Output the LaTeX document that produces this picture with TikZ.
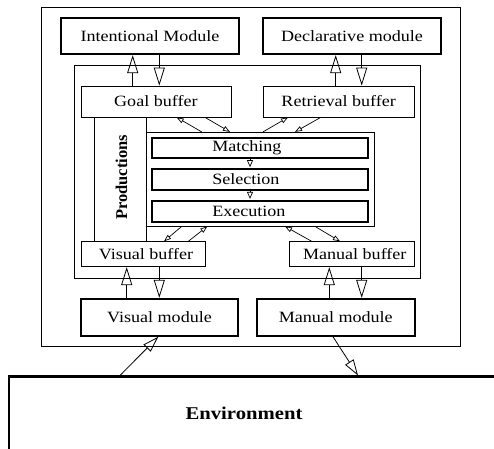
\documentclass[tikz,border=0pt]{standalone}
\usepackage{fontspec}
\setmainfont[FakeStretch=1.15]{Liberation Serif}
\newfontfamily\prodfont{Liberation Serif}
\usetikzlibrary{arrows.meta}
\begin{document}
\begin{tikzpicture}[x=1pt,y=-1pt,
  thin line/.style={line width=0.8pt},
  modbox/.style={draw, line width=2.2pt, inner sep=0pt, font=\fontsize{15.7}{17}\selectfont},
  bufbox/.style={draw, line width=0.8pt, inner sep=0pt, font=\fontsize{15.7}{17}\selectfont},
  procbox/.style={draw, line width=2pt, inner ysep=0pt, font=\fontsize{15.7}{17}\selectfont,
     minimum width=216pt, text width=96pt, inner xsep=60pt, align=left},
  bigarr/.style={line width=0.8pt, -{Triangle[open, length=18pt, width=11pt, line width=0.8pt]}},
  smallarr/.style={line width=0.7pt, -{Triangle[open, length=7pt, width=5pt, line width=0.7pt]}},
  tinyarr/.style={line width=0.7pt, shorten >=0.8pt, -{Triangle[open, length=7pt, width=6pt, line width=0.7pt]}},
  envarr/.style={line width=0.8pt, -{Triangle[open, length=16pt, width=10pt, line width=0.8pt]}}
]
\useasboundingbox (0,0) rectangle (494,448);
\clip (0,0) rectangle (494,448);

% frames
\draw[thin line] (41.5,7) rectangle (460,346);
\draw[thin line] (74.5,65) rectangle (420,278);

% modules
\node[modbox, minimum width=178pt, minimum height=36pt] (intent) at (150,36) {Intentional Module};
\node[modbox, minimum width=178pt, minimum height=36pt] (decl) at (352,36) {Declarative module};
\node[modbox, minimum width=157.6pt, minimum height=36.7pt] (vmod) at (159.5,317.3) {Visual module};
\node[modbox, minimum width=158.3pt, minimum height=36.7pt] (mmod) at (335.8,317.3) {Manual module};

% buffers
\node[bufbox, minimum width=150pt, minimum height=31pt] (goal) at (155.9,101.5) {Goal buffer};
\node[bufbox, minimum width=150.5pt, minimum height=31pt] (retr) at (338.7,101.5) {Retrieval buffer};
\node[bufbox, minimum width=124pt, minimum height=25pt] (vbuf) at (143,254.2) {\hspace*{6pt}Visual buffer};
\node[bufbox, minimum width=124.5pt, minimum height=25pt] (mbuf) at (351.75,254.2) {\hspace*{6pt}Manual buffer};

% productions column
\draw[thin line] ([xshift=-61.9pt]goal.south) -- ([xshift=-61.9pt]goal.south |- vbuf.north);
\draw[thin line] ([xshift=-9.6pt]goal.south) -- ([xshift=-9.6pt]goal.south |- vbuf.north);
\node[rotate=90, font=\prodfont\bfseries\fontsize{16.5}{18}\selectfont] (prodlabel) at (121.5,177.5) {Productions};

% processor
\node[draw, line width=0.8pt, minimum width=228.3pt, minimum height=93.7pt, inner sep=0pt] (proc) at (260.15,179.15) {};
\node[procbox, minimum height=20.6pt] (match) at (260.3,148) {Matching};
\node[procbox, minimum height=21pt] (sel) at (260.3,179.5) {Selection};
\node[procbox, minimum height=21pt] (exec) at (260.3,211.2) {Execution};
\draw[tinyarr] ([xshift=-10.3pt]match.south) -- ([xshift=-10.3pt]sel.north);
\draw[tinyarr] ([xshift=-10.3pt]sel.south) -- ([xshift=-10.3pt]exec.north);

% environment
\node[draw, line width=2.5pt, minimum width=501pt, minimum height=93.3pt, inner sep=0pt,
  label={[font=\bfseries\fontsize{18}{20}\selectfont, xshift=-15.5pt, yshift=10.3pt]center:Environment}]
  (env) at (259.5,423.35) {};

% module <-> buffer arrows
\draw[bigarr] ([xshift=-23.2pt]goal.north) -- ([xshift=-23.2pt]goal.north |- intent.south);
\draw[bigarr] ([xshift=3.4pt]goal.north |- intent.south) -- ([xshift=3.4pt]goal.north);
\draw[bigarr] ([xshift=-3pt]retr.north) -- ([xshift=-3pt]retr.north |- decl.south);
\draw[bigarr] ([xshift=23pt]retr.north |- decl.south) -- ([xshift=23pt]retr.north);
\draw[bigarr] ([xshift=-32.8pt]vmod.north) -- ([xshift=-32.8pt]vmod.north |- vbuf.south);
\draw[bigarr] ([xshift=-0.2pt]vmod.north |- vbuf.south) -- ([xshift=-0.2pt]vmod.north);
\draw[bigarr] ([xshift=-6.5pt]mmod.north) -- ([xshift=-6.5pt]mmod.north |- mbuf.south);
\draw[bigarr] ([xshift=25.9pt]mmod.north |- mbuf.south) -- ([xshift=25.9pt]mmod.north);

% buffer <-> processor arrows
\draw[smallarr] ([xshift=-58.45pt]proc.north) -- ([xshift=20.8pt]goal.south);
\draw[smallarr] ([xshift=49.1pt]goal.south) -- ([xshift=-30.15pt]proc.north);
\draw[smallarr] ([xshift=2.85pt]proc.north) -- ([xshift=-50.7pt]retr.south);
\draw[smallarr] ([xshift=-18pt]retr.south) -- ([xshift=34.85pt]proc.north);
\draw[smallarr] ([xshift=-78.45pt]proc.south) -- ([xshift=21pt]vbuf.north);
\draw[smallarr] ([xshift=45.3pt]vbuf.north) -- ([xshift=-52.85pt]proc.south);
\draw[smallarr] ([xshift=-40.05pt]mbuf.north) -- ([xshift=24.85pt]proc.south);
\draw[smallarr] ([xshift=54.85pt]proc.south) -- ([xshift=-11.75pt]mbuf.north);

% environment arrows
\draw[envarr] ([xshift=-139.5pt]env.north) -- ([xshift=-1.2pt]vmod.south);
\draw[envarr] ([xshift=-2.8pt]mmod.south) -- ([xshift=98.5pt]env.north);
\end{tikzpicture}
\end{document}
